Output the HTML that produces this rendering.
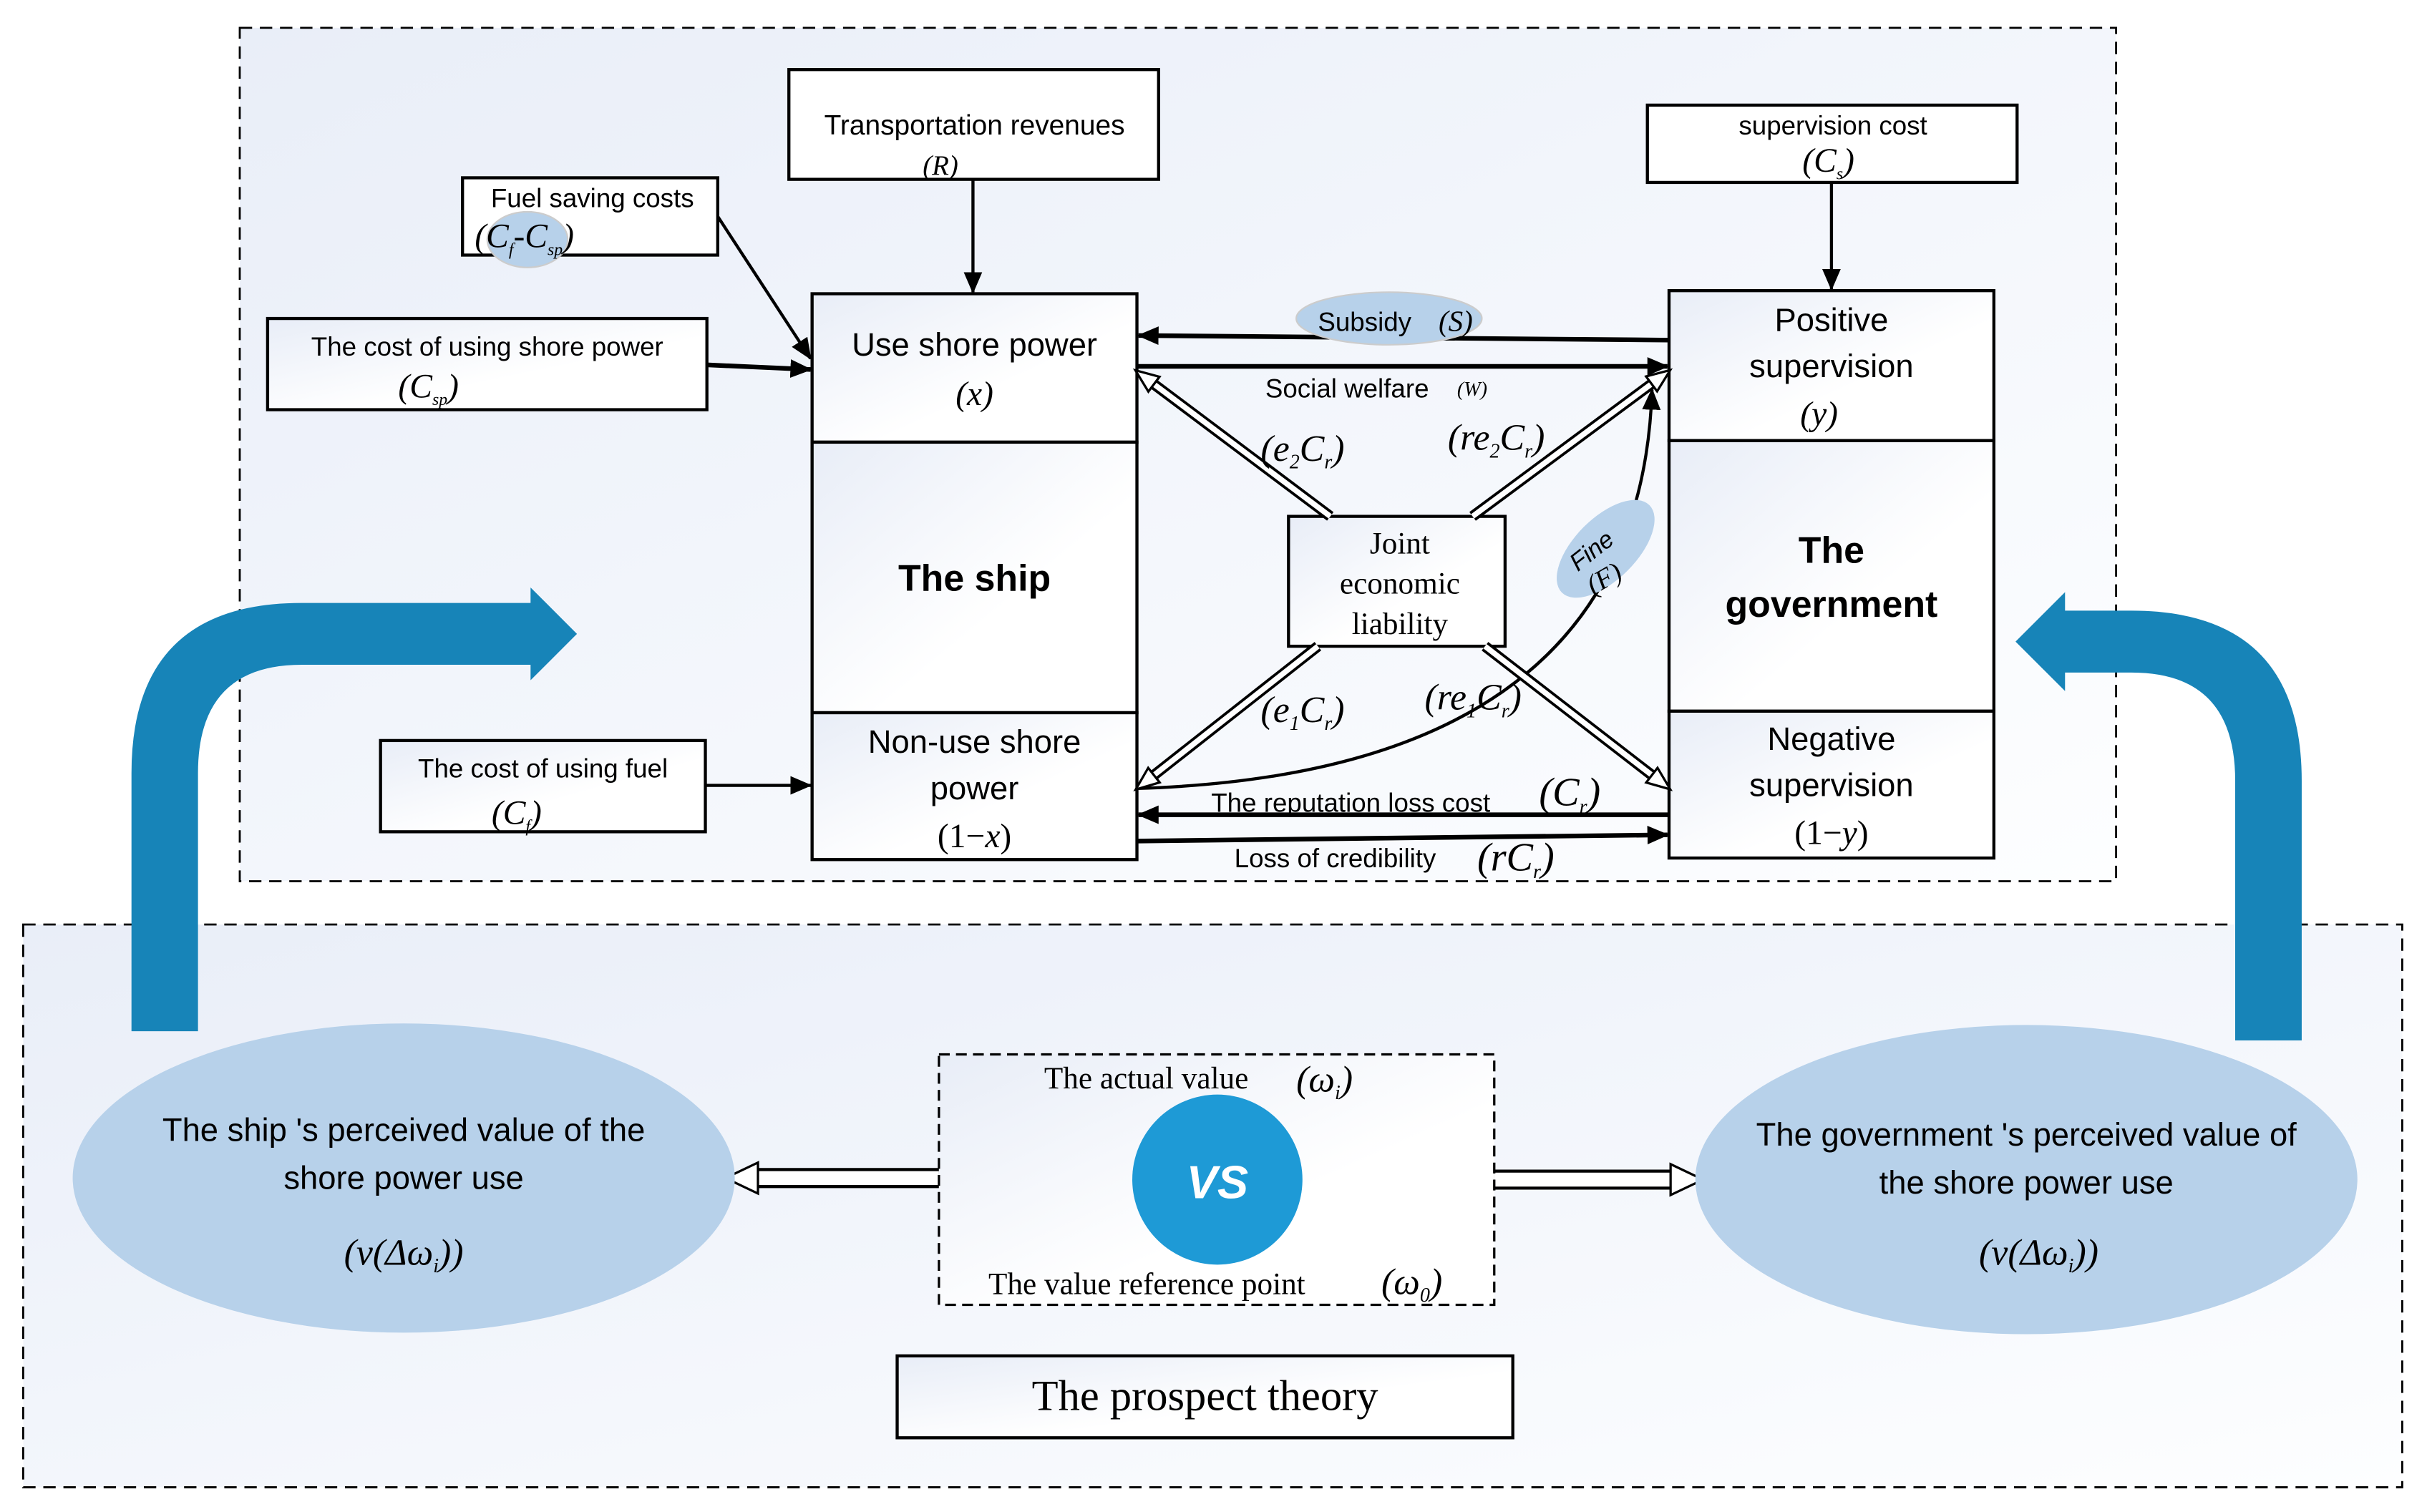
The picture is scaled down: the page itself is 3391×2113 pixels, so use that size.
<!DOCTYPE html>
<html><head><meta charset="utf-8"><style>
html,body{margin:0;padding:0;background:#fff;}
svg{display:block;}
.t{font-family:"Liberation Sans",sans-serif;fill:#000;}
.m{font-family:"Liberation Serif",serif;font-style:italic;fill:#000;}
.r{font-family:"Liberation Serif",serif;fill:#000;}
</style></head><body>
<svg width="3391" height="2113" viewBox="0 0 1569 978" preserveAspectRatio="none" xmlns="http://www.w3.org/2000/svg">
<defs>
<linearGradient id="bg" x1="0" y1="0" x2="1" y2="1"><stop offset="0" stop-color="#e9eef8"/><stop offset="1" stop-color="#fdfeff"/></linearGradient>
<linearGradient id="bx" x1="0" y1="0" x2="1" y2="1"><stop offset="0" stop-color="#e8edf7"/><stop offset="0.6" stop-color="#ffffff"/></linearGradient>
<marker id="a" markerUnits="userSpaceOnUse" markerWidth="20" markerHeight="20" refX="13" refY="6" orient="auto"><path d="M0,0 L14,6 L0,12 z" fill="#000"/></marker>
<marker id="h" markerUnits="userSpaceOnUse" markerWidth="20" markerHeight="20" refX="1" refY="7" orient="auto"><path d="M1,1 L16,7 L1,13 z" fill="#fff" stroke="#000" stroke-width="1.5"/></marker>
<marker id="hb" markerUnits="userSpaceOnUse" markerWidth="30" markerHeight="30" refX="1" refY="12" orient="auto"><path d="M1,2 L22,12 L1,22 z" fill="#fff" stroke="#000" stroke-width="1.5"/></marker>
</defs>
<rect x="0" y="0" width="1569" height="978" fill="#fff"/>
<rect x="155" y="18" width="1213" height="552" fill="url(#bg)" stroke="#000" stroke-width="1.3" stroke-dasharray="8,5"/>
<rect x="15" y="598" width="1538" height="364" fill="url(#bg)" stroke="#000" stroke-width="1.3" stroke-dasharray="8,5"/>

<path d="M85,667 L85,500 Q85,390 195,390 L343,390 L343,380 L373,410 L343,440 L343,430 L195,430 Q128,430 128,500 L128,667 Z" fill="#1784b8"/>
<path d="M1488,673 L1488,505 Q1488,395 1378,395 L1335,395 L1335,383 L1303,415 L1335,447 L1335,435 L1378,435 Q1445,435 1445,505 L1445,673 Z" fill="#1784b8"/>

<rect x="510" y="45" width="239" height="71" fill="#fff" stroke="#000" stroke-width="2"/>
<text class="t" x="630" y="87" font-size="18" text-anchor="middle">Transportation revenues</text>
<text class="m" x="608" y="113" font-size="18" text-anchor="middle">(R)</text>
<rect x="1065" y="68" width="239" height="50" fill="#fff" stroke="#000" stroke-width="2"/>
<text class="t" x="1185" y="87" font-size="17" text-anchor="middle">supervision cost</text>
<text class="m" x="1182" y="111" font-size="22" text-anchor="middle">(C<tspan font-size="11" dy="5">s</tspan><tspan dy="-5">)</tspan></text>
<rect x="299" y="115" width="165" height="50" fill="#fff" stroke="#000" stroke-width="2"/>
<text class="t" x="383" y="134" font-size="17" text-anchor="middle">Fuel saving costs</text>
<ellipse cx="341" cy="155" rx="26" ry="18" fill="#b7d1ea" stroke="#ccc"/>
<text class="m" x="339" y="160" font-size="22" text-anchor="middle">(C<tspan font-size="11" dy="5">f</tspan><tspan dy="-5">-C</tspan><tspan font-size="11" dy="5">sp</tspan><tspan dy="-5">)</tspan></text>
<rect x="173" y="206" width="284" height="59" fill="url(#bx)" stroke="#000" stroke-width="2"/>
<text class="t" x="315" y="230" font-size="17" text-anchor="middle">The cost of using shore power</text>
<text class="m" x="277" y="257" font-size="22" text-anchor="middle">(C<tspan font-size="11" dy="5">sp</tspan><tspan dy="-5">)</tspan></text>
<rect x="246" y="479" width="210" height="59" fill="url(#bx)" stroke="#000" stroke-width="2"/>
<text class="t" x="351" y="503" font-size="17" text-anchor="middle">The cost of using fuel</text>
<text class="m" x="334" y="533" font-size="22" text-anchor="middle">(C<tspan font-size="11" dy="5">f</tspan><tspan dy="-5">)</tspan></text>

<rect x="525" y="190" width="210" height="96" fill="url(#bx)" stroke="#000" stroke-width="2"/>
<rect x="525" y="286" width="210" height="175" fill="url(#bx)" stroke="#000" stroke-width="2"/>
<rect x="525" y="461" width="210" height="95" fill="url(#bx)" stroke="#000" stroke-width="2"/>
<text class="t" x="630" y="230" font-size="21" text-anchor="middle">Use shore power</text>
<text class="m" x="630" y="262" font-size="22" text-anchor="middle">(x)</text>
<text class="t" x="630" y="382" font-size="24" font-weight="bold" text-anchor="middle">The ship</text>
<text class="t" x="630" y="487" font-size="21" text-anchor="middle">Non-use shore</text>
<text class="t" x="630" y="517" font-size="21" text-anchor="middle">power</text>
<text class="r" x="630" y="548" font-size="22" text-anchor="middle">(1<tspan>−</tspan><tspan font-style="italic">x</tspan>)</text>

<rect x="1079" y="188" width="210" height="97" fill="url(#bx)" stroke="#000" stroke-width="2"/>
<rect x="1079" y="285" width="210" height="175" fill="url(#bx)" stroke="#000" stroke-width="2"/>
<rect x="1079" y="460" width="210" height="95" fill="url(#bx)" stroke="#000" stroke-width="2"/>
<text class="t" x="1184" y="214" font-size="21" text-anchor="middle">Positive</text>
<text class="t" x="1184" y="244" font-size="21" text-anchor="middle">supervision</text>
<text class="m" x="1176" y="275" font-size="22" text-anchor="middle">(y)</text>
<text class="t" x="1184" y="364" font-size="24" font-weight="bold" text-anchor="middle">The</text>
<text class="t" x="1184" y="399" font-size="24" font-weight="bold" text-anchor="middle">government</text>
<text class="t" x="1184" y="485" font-size="21" text-anchor="middle">Negative</text>
<text class="t" x="1184" y="515" font-size="21" text-anchor="middle">supervision</text>
<text class="r" x="1184" y="546" font-size="22" text-anchor="middle">(1<tspan>−</tspan><tspan font-style="italic">y</tspan>)</text>

<rect x="833" y="334" width="140" height="84" fill="url(#bx)" stroke="#000" stroke-width="2"/>
<text class="r" x="905" y="358" font-size="20" text-anchor="middle">Joint</text>
<text class="r" x="905" y="384" font-size="20" text-anchor="middle">economic</text>
<text class="r" x="905" y="410" font-size="20" text-anchor="middle">liability</text>

<g stroke="#000" stroke-width="2" fill="none">
<line x1="629" y1="116" x2="629" y2="189" marker-end="url(#a)"/>
<line x1="1184" y1="118" x2="1184" y2="187" marker-end="url(#a)"/>
<line x1="464" y1="140" x2="524" y2="232" marker-end="url(#a)"/>
<line x1="457" y1="236" x2="524" y2="239" stroke-width="3" marker-end="url(#a)"/>
<line x1="456" y1="508" x2="524" y2="508" marker-end="url(#a)"/>
<line x1="1079" y1="220" x2="736" y2="217" stroke-width="3" marker-end="url(#a)"/>
<line x1="735" y1="237" x2="1078" y2="237" stroke-width="3" marker-end="url(#a)"/>
<line x1="1079" y1="527" x2="736" y2="527" stroke-width="3" marker-end="url(#a)"/>
<line x1="735" y1="544" x2="1078" y2="540" stroke-width="3" marker-end="url(#a)"/>
<path d="M735,510 Q1060,500 1068,252" marker-end="url(#a)"/>
</g>

<g fill="none">
<g stroke="#000" stroke-width="7">
<line x1="860" y1="334" x2="746" y2="248.5"/>
<line x1="952" y1="334" x2="1067.7" y2="248.3"/>
<line x1="852" y1="418" x2="746" y2="501.4"/>
<line x1="960" y1="418" x2="1067.9" y2="501.4"/>
<line x1="607" y1="762" x2="490" y2="762" stroke-width="13"/>
<line x1="966" y1="763" x2="1080" y2="763" stroke-width="13"/>
</g>
<g stroke="#fff" stroke-width="3.5">
<line x1="860" y1="334" x2="746" y2="248.5" marker-end="url(#h)"/>
<line x1="952" y1="334" x2="1067.7" y2="248.3" marker-end="url(#h)"/>
<line x1="852" y1="418" x2="746" y2="501.4" marker-end="url(#h)"/>
<line x1="960" y1="418" x2="1067.9" y2="501.4" marker-end="url(#h)"/>
<line x1="607" y1="762" x2="490" y2="762" stroke-width="9" marker-end="url(#hb)"/>
<line x1="966" y1="763" x2="1080" y2="763" stroke-width="9" marker-end="url(#hb)"/>
</g>
</g>

<ellipse cx="898" cy="206" rx="60" ry="17" fill="#b7d1ea" stroke="#ccc"/>
<text class="t" x="852" y="214" font-size="17">Subsidy</text>
<text class="m" x="930" y="214" font-size="19">(S)</text>
<text class="t" x="818" y="257" font-size="17">Social welfare</text>
<text class="m" x="942" y="256" font-size="13">(W)</text>
<text class="m" x="815" y="298" font-size="24">(e<tspan font-size="13" dy="5">2</tspan><tspan dy="-5">C</tspan><tspan font-size="13" dy="5">r</tspan><tspan dy="-5">)</tspan></text>
<text class="m" x="936" y="291" font-size="24">(re<tspan font-size="13" dy="5">2</tspan><tspan dy="-5">C</tspan><tspan font-size="13" dy="5">r</tspan><tspan dy="-5">)</tspan></text>
<text class="m" x="815" y="467" font-size="24">(e<tspan font-size="13" dy="5">1</tspan><tspan dy="-5">C</tspan><tspan font-size="13" dy="5">r</tspan><tspan dy="-5">)</tspan></text>
<text class="m" x="921" y="459" font-size="24">(re<tspan font-size="13" dy="5">1</tspan><tspan dy="-5">C</tspan><tspan font-size="13" dy="5">r</tspan><tspan dy="-5">)</tspan></text>
<ellipse cx="1038" cy="355" rx="40" ry="20" fill="#b7d1ea" transform="rotate(-45 1038 355)"/>
<text class="t" x="1020" y="370" font-size="16" font-style="italic" transform="rotate(-38 1020 370)">Fine</text>
<text class="m" x="1030" y="385" font-size="18" transform="rotate(-30 1030 385)">(F)</text>
<text class="t" x="783" y="525" font-size="17">The reputation loss cost</text>
<text class="m" x="995" y="521" font-size="26">(C<tspan font-size="13" dy="5">r</tspan><tspan dy="-5">)</tspan></text>
<text class="t" x="798" y="561" font-size="17">Loss of credibility</text>
<text class="m" x="955" y="563" font-size="26">(rC<tspan font-size="13" dy="5">r</tspan><tspan dy="-5">)</tspan></text>

<ellipse cx="261" cy="762" rx="214" ry="100" fill="#b7d1ea"/>
<text class="t" x="261" y="738" font-size="21" text-anchor="middle">The ship 's perceived value of the</text>
<text class="t" x="261" y="769" font-size="21" text-anchor="middle">shore power use</text>
<text class="m" x="261" y="818" font-size="24" text-anchor="middle">(v(Δω<tspan font-size="13" dy="5">i</tspan><tspan dy="-5">))</tspan></text>
<ellipse cx="1310" cy="763" rx="214" ry="100" fill="#b7d1ea"/>
<text class="t" x="1310" y="741" font-size="21" text-anchor="middle">The government 's perceived value of</text>
<text class="t" x="1310" y="772" font-size="21" text-anchor="middle">the shore power use</text>
<text class="m" x="1318" y="818" font-size="24" text-anchor="middle">(v(Δω<tspan font-size="13" dy="5">i</tspan><tspan dy="-5">))</tspan></text>

<rect x="607" y="682" width="359" height="162" fill="url(#bx)" stroke="#000" stroke-width="1.5" stroke-dasharray="7,4"/>
<text class="r" x="675" y="704" font-size="20">The actual value</text>
<text class="m" x="838" y="706" font-size="24">(ω<tspan font-size="13" dy="5">i</tspan><tspan dy="-5">)</tspan></text>
<circle cx="787" cy="763" r="55" fill="#1e9ad6"/>
<text class="t" x="787" y="775" font-size="30" font-weight="bold" font-style="italic" style="fill:#fff" text-anchor="middle">VS</text>
<text class="r" x="639" y="837" font-size="20">The value reference point</text>
<text class="m" x="893" y="837" font-size="24">(ω<tspan font-size="13" dy="5">0</tspan><tspan dy="-5">)</tspan></text>

<rect x="580" y="877" width="398" height="53" fill="url(#bx)" stroke="#000" stroke-width="2"/>
<text class="r" x="779" y="912" font-size="28" text-anchor="middle">The prospect theory</text>
</svg>
</body></html>
